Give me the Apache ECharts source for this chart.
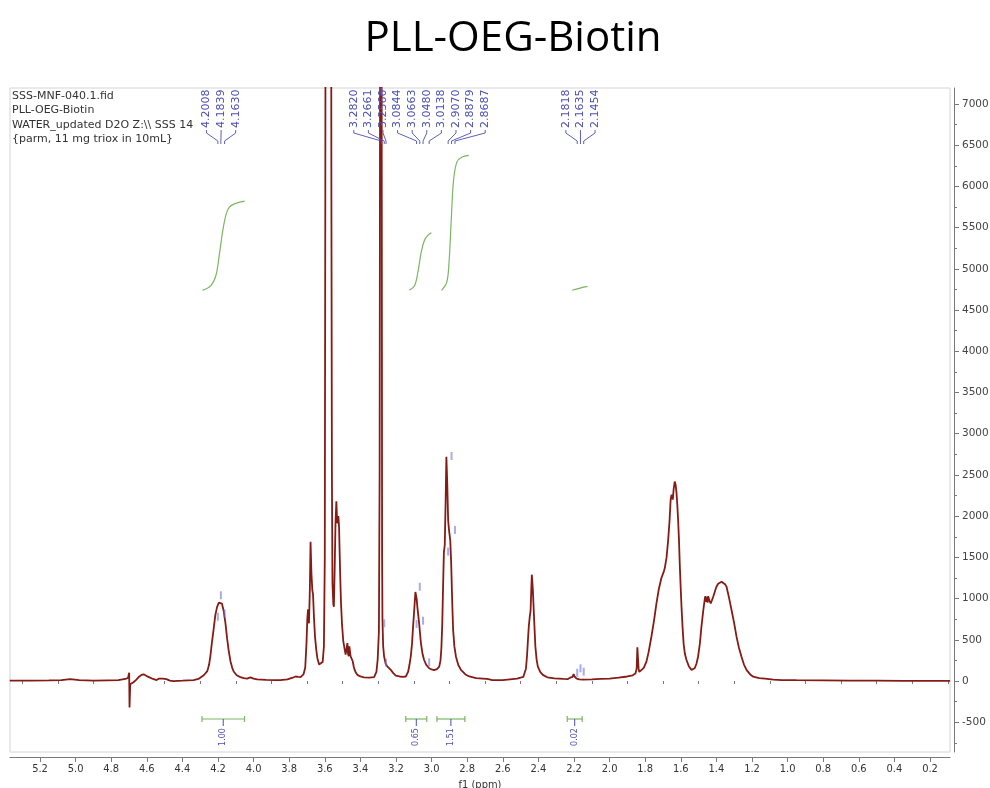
<!DOCTYPE html>
<html>
<head>
<meta charset="utf-8">
<title>PLL-OEG-Biotin</title>
<script src="https://cdn.jsdelivr.net/npm/echarts@6/dist/echarts.min.js"></script>
<style>
  html, body { margin: 0; padding: 0; background: #ffffff; }
  #chart { width: 990px; height: 788px; }
</style>
</head>
<body>
<div id="chart"></div>
<script>
// 1H spectrum, [chemical shift (ppm), intensity]
const spectrum = [
  [5.37, 5], [5.25, 5], [5.15, 8], [5.08, 12], [5.03, 22], [4.98, 12], [4.90, 5], [4.82, 8],
  [4.76, 10], [4.72, 25], [4.705, 40], [4.699, 100], [4.697, -320], [4.693, -40], [4.685, -25],
  [4.675, -15], [4.660, 15], [4.647, 45], [4.630, 75], [4.618, 82], [4.600, 60], [4.585, 45],
  [4.565, 25], [4.545, 12], [4.530, 30], [4.520, 10], [4.510, 28], [4.500, 8], [4.490, 22],
  [4.470, 5], [4.449, 0], [4.40, 5], [4.337, 12], [4.310, 25], [4.299, 35], [4.280, 70],
  [4.260, 120], [4.250, 200], [4.243, 300], [4.235, 450], [4.224, 640], [4.215, 800],
  [4.205, 900], [4.195, 950], [4.186, 962], [4.178, 940], [4.168, 850], [4.158, 700],
  [4.149, 520], [4.140, 370], [4.130, 240], [4.120, 160], [4.112, 115], [4.095, 70],
  [4.074, 48], [4.055, 35], [4.036, 30], [4.018, 45], [4.000, 30], [3.980, 20], [3.930, 15],
  [3.880, 12], [3.849, 12], [3.810, 20], [3.780, 40], [3.764, 55], [3.750, 50], [3.736, 48],
  [3.720, 80], [3.710, 160], [3.703, 450], [3.698, 760], [3.694, 870], [3.689, 700],
  [3.684, 1100], [3.680, 1690], [3.675, 1300], [3.670, 1100], [3.666, 1050], [3.661, 780],
  [3.655, 540], [3.648, 380], [3.642, 280], [3.632, 200], [3.623, 180], [3.612, 230],
  [3.605, 420], [3.600, 1500], [3.597, 6000], [3.594, 12000], [3.580, 20000], [3.566, 12000],
  [3.563, 6000], [3.560, 2500], [3.557, 1185], [3.552, 930], [3.549, 900], [3.545, 1300],
  [3.540, 1900], [3.535, 2180], [3.531, 1950], [3.528, 1914], [3.524, 2000], [3.520, 1880],
  [3.517, 1600], [3.513, 1250], [3.509, 950], [3.503, 680], [3.496, 480], [3.488, 380],
  [3.483, 320], [3.477, 330], [3.473, 460], [3.470, 340], [3.466, 300], [3.462, 420],
  [3.458, 400], [3.455, 300], [3.451, 280], [3.447, 300], [3.443, 240], [3.437, 170],
  [3.432, 135], [3.425, 100], [3.417, 75], [3.400, 55], [3.380, 45], [3.350, 42], [3.323, 48],
  [3.310, 110], [3.303, 260], [3.296, 600], [3.292, 2500], [3.288, 10000], [3.283, 12000],
  [3.280, 6000], [3.278, 1500], [3.276, 740], [3.272, 420], [3.267, 300], [3.258, 210],
  [3.248, 175], [3.229, 135], [3.215, 95], [3.201, 65], [3.180, 55], [3.160, 50], [3.145, 55],
  [3.132, 110], [3.124, 200], [3.117, 300], [3.110, 450], [3.104, 660], [3.097, 880],
  [3.091, 1080], [3.088, 1104], [3.084, 1000], [3.080, 900], [3.075, 800], [3.070, 700],
  [3.065, 580], [3.060, 460], [3.051, 330], [3.042, 255], [3.030, 195], [3.014, 155],
  [3.000, 140], [2.986, 133], [2.970, 145], [2.957, 175], [2.950, 250], [2.945, 400],
  [2.940, 700], [2.936, 1100], [2.931, 1560], [2.926, 1650], [2.921, 2200], [2.917, 2720],
  [2.912, 2400], [2.907, 1950], [2.903, 1850], [2.899, 1840], [2.895, 1700], [2.890, 1430],
  [2.884, 950], [2.879, 620], [2.872, 420], [2.863, 295], [2.850, 195], [2.835, 135],
  [2.810, 80], [2.788, 55], [2.750, 35], [2.713, 30], [2.690, 25], [2.680, 5], [2.675, 20],
  [2.660, 10], [2.650, 25], [2.630, 10], [2.600, 10], [2.560, 20], [2.520, 30], [2.500, 40],
  [2.485, 50], [2.479, 60], [2.470, 150], [2.464, 300], [2.458, 520], [2.454, 660],
  [2.448, 790], [2.444, 850], [2.440, 1100], [2.437, 1290], [2.434, 1200], [2.431, 1100],
  [2.428, 950], [2.424, 750], [2.417, 420], [2.410, 260], [2.403, 175], [2.390, 110],
  [2.375, 75], [2.350, 45], [2.310, 32], [2.260, 25], [2.234, 24], [2.222, 40], [2.215, 55],
  [2.208, 50], [2.202, 85], [2.197, 55], [2.191, 50], [2.185, 30], [2.170, 20], [2.150, 18],
  [2.100, 20], [2.050, 25], [2.000, 30], [1.950, 40], [1.900, 55], [1.870, 70], [1.855, 90],
  [1.848, 150], [1.844, 410], [1.840, 400], [1.837, 150], [1.833, 110], [1.822, 115],
  [1.808, 160], [1.793, 235], [1.780, 360], [1.765, 540], [1.750, 740], [1.737, 940],
  [1.723, 1120], [1.709, 1250], [1.695, 1330], [1.690, 1370], [1.680, 1500], [1.671, 1710],
  [1.663, 1950], [1.657, 2200], [1.652, 2260], [1.648, 2230], [1.645, 2200], [1.640, 2330],
  [1.634, 2420], [1.629, 2380], [1.624, 2280], [1.620, 2150], [1.615, 1950], [1.610, 1700],
  [1.606, 1430], [1.601, 1150], [1.596, 900], [1.590, 650], [1.584, 450], [1.577, 330],
  [1.568, 255], [1.555, 180], [1.540, 135], [1.530, 135], [1.522, 155], [1.512, 210],
  [1.503, 295], [1.493, 450], [1.484, 660], [1.474, 850], [1.465, 1000], [1.462, 1030],
  [1.458, 960], [1.453, 1020], [1.449, 950], [1.446, 1030], [1.440, 980], [1.432, 943],
  [1.425, 980], [1.418, 1023], [1.408, 1090], [1.400, 1144], [1.390, 1180], [1.380, 1200],
  [1.371, 1205], [1.360, 1195], [1.350, 1170], [1.343, 1144], [1.330, 1020], [1.315, 862],
  [1.300, 700], [1.287, 538], [1.273, 400], [1.259, 295], [1.245, 200], [1.230, 133],
  [1.210, 80], [1.193, 52], [1.160, 35], [1.127, 28], [1.080, 18], [1.033, 12], [0.95, 10],
  [0.80, 8], [0.65, 5], [0.50, 5], [0.35, 3], [0.20, 2], [0.087, 2]
];

// integral traces, [ppm, trace height]
const integralCurve1 = [[4.288, 4740], [4.241, 4794], [4.212, 4918], [4.193, 5164], [4.174, 5451],
  [4.155, 5657], [4.136, 5748], [4.108, 5789], [4.050, 5822]];
const integralCurve2 = [[3.125, 4740], [3.096, 4794], [3.077, 4959], [3.058, 5206], [3.040, 5348],
  [3.020, 5410], [3.001, 5439]];
const integralCurve3 = [[2.944, 4740], [2.915, 4835], [2.902, 5081], [2.890, 5575], [2.877, 6068],
  [2.858, 6295], [2.829, 6356], [2.791, 6376]];
const integralCurve4 = [[2.210, 4740], [2.171, 4763], [2.124, 4787]];

// integration regions and their relative areas
const integralFrom = [4.290, 3.145, 2.970, 2.238];
const integralTo = [4.051, 3.027, 2.813, 2.154];
const integralValues = ['1.00', '0.65', '1.51', '0.02'];

// picked peaks (ppm) and their heights, grouped as labelled
const peakGroups = [
  [4.2008, 4.1839, 4.1630],
  [3.2820, 3.2661, 3.2560, 3.0844, 3.0663, 3.0480, 3.0138, 2.9070, 2.8879, 2.8687],
  [2.1818, 2.1635, 2.1454]
];
const peakHeights = [
  [780, 1040, 820],
  [7150, 700, 222, 692, 1144, 732, 227, 1570, 2730, 1833],
  [100, 154, 113]
];

// axis ticks
const xTickLabels = [5.2, 5.0, 4.8, 4.6, 4.4, 4.2, 4.0, 3.8, 3.6, 3.4, 3.2, 3.0, 2.8, 2.6, 2.4,
  2.2, 2.0, 1.8, 1.6, 1.4, 1.2, 1.0, 0.8, 0.6, 0.4, 0.2];
const xMinorTicks = [5.3, 5.1, 4.9, 4.7, 4.5, 4.3, 4.1, 3.9, 3.7, 3.5, 3.3, 3.1, 2.9, 2.7, 2.5,
  2.3, 2.1, 1.9, 1.7, 1.5, 1.3, 1.1, 0.9, 0.7, 0.5, 0.3, 0.1];
const yTickLabels = [-500, 0, 500, 1000, 1500, 2000, 2500, 3000, 3500, 4000, 4500, 5000, 5500,
  6000, 6500, 7000];
const yMinorTicks = [-750, -250, 250, 750, 1250, 1750, 2250, 2750, 3250, 3750, 4250, 4750, 5250,
  5750, 6250, 6750];

const headerLines = [
  'SSS-MNF-040.1.fid',
  'PLL-OEG-Biotin',
  'WATER_updated D2O Z:\\\\ SSS 14',
  '{parm, 11 mg triox in 10mL}'
];

const X_MIN = 0.0876, X_MAX = 5.3685;
const Y_MIN = -861, Y_MAX = 7194;

const SPEC_COLOR = '#841c15';
const INT_GREEN = '#7cb564';
const LABEL_BLUE = '#4b4fb0';
const AXIS_GRAY = '#7a7a7a';
const FONT = '"DejaVu Sans", Verdana, sans-serif';
const FONT_COND = '"DejaVu Sans Condensed", "DejaVu Sans", sans-serif';

function renderPeakLabels(params, api) {
  const group = peakGroups[params.dataIndex];
  const top = api.coord([X_MIN, Y_MAX])[1];
  const xs = group.map(p => api.coord([p, 0])[0]);
  const cx = xs.reduce((a, b) => a + b, 0) / xs.length;
  const step = 14.6;
  const base = top + 40;
  const children = [];
  group.forEach((p, i) => {
    const lx = cx + (i - (group.length - 1) / 2) * step;
    children.push({
      type: 'text', x: lx, y: base, rotation: Math.PI / 2,
      style: { text: p.toFixed(4), fill: LABEL_BLUE, font: '11px ' + FONT, align: 'left', verticalAlign: 'middle' }
    });
    children.push({
      type: 'polyline',
      shape: { points: [[lx, base + 2], [lx, base + 5], [xs[i], base + 13], [xs[i], base + 16]] },
      style: { stroke: LABEL_BLUE, fill: null, lineWidth: 0.9 }
    });
  });
  return { type: 'group', children: children };
}

function renderIntegrals(params, api) {
  const i = params.dataIndex;
  const x1 = api.coord([integralFrom[i], 0])[0];
  const x2 = api.coord([integralTo[i], 0])[0];
  const y = api.coord([X_MIN, Y_MIN])[1] - 33;
  const cx = (x1 + x2) / 2;
  const g = { stroke: INT_GREEN, lineWidth: 1.2 };
  return {
    type: 'group',
    children: [
      { type: 'line', shape: { x1: x1, y1: y, x2: x2, y2: y }, style: g },
      { type: 'line', shape: { x1: x1, y1: y - 3, x2: x1, y2: y + 3 }, style: g },
      { type: 'line', shape: { x1: x2, y1: y - 3, x2: x2, y2: y + 3 }, style: g },
      { type: 'line', shape: { x1: cx, y1: y, x2: cx, y2: y + 7 }, style: { stroke: LABEL_BLUE, lineWidth: 1 } },
      {
        type: 'text', x: cx, y: y + 18, rotation: Math.PI / 2,
        style: { text: integralValues[i], fill: LABEL_BLUE, font: '8px ' + FONT, align: 'center', verticalAlign: 'middle' }
      }
    ]
  };
}

const chart = echarts.init(document.getElementById('chart'), null, { renderer: 'canvas' });

const markerData = [];
peakGroups.forEach((g, gi) => g.forEach((p, i) => markerData.push([p, peakHeights[gi][i]])));

const integralSeries = [integralCurve1, integralCurve2, integralCurve3, integralCurve4].map(c => ({
  type: 'line', data: c, xAxisIndex: 0, yAxisIndex: 0, smooth: 0.35, showSymbol: false,
  lineStyle: { color: INT_GREEN, width: 1.2 }, silent: true, z: 2
}));

chart.setOption({
  animation: false,
  backgroundColor: '#ffffff',
  title: {
    text: 'PLL-OEG-Biotin', left: 508, top: 13, textAlign: 'center',
    textStyle: { fontFamily: '"Open Sans", sans-serif', fontSize: 42, fontWeight: 'normal', color: '#000000' }
  },
  graphic: [{
    type: 'text', left: 12, top: 89,
    style: { text: headerLines.join('\n'), font: '11px ' + FONT, fill: '#333333', lineHeight: 14.4 }
  }],
  grid: {
    left: 10, right: 40, top: 88, bottom: 36, outerBoundsMode: 'none', containLabel: false,
    show: true, borderColor: '#d4d4d4', borderWidth: 1, backgroundColor: 'transparent'
  },
  xAxis: [{
    type: 'value', inverse: true, min: X_MIN, max: X_MAX, position: 'bottom', offset: 5,
    axisLine: { show: true, onZero: false, lineStyle: { color: AXIS_GRAY, width: 1 } },
    axisTick: { show: true, customValues: xTickLabels, length: 5, lineStyle: { color: AXIS_GRAY } },
    axisLabel: {
      show: true, customValues: xTickLabels, formatter: v => v.toFixed(1), margin: 7,
      color: '#333333', fontSize: 11, fontFamily: FONT_COND
    },
    splitLine: { show: false },
    name: 'f1 (ppm)', nameLocation: 'middle', nameGap: 22,
    nameTextStyle: { color: '#333333', fontSize: 11, fontFamily: FONT_COND }
  }, {
    type: 'value', inverse: true, min: X_MIN, max: X_MAX, position: 'bottom', offset: 5,
    axisLine: { show: false },
    axisTick: { show: true, customValues: xMinorTicks, length: 3, lineStyle: { color: AXIS_GRAY } },
    axisLabel: { show: false }, splitLine: { show: false }
  }],
  yAxis: [{
    type: 'value', min: Y_MIN, max: Y_MAX, position: 'right', offset: 4,
    axisLine: { show: true, onZero: false, lineStyle: { color: AXIS_GRAY, width: 1 } },
    axisTick: { show: true, customValues: yTickLabels, length: 5, lineStyle: { color: AXIS_GRAY } },
    axisLabel: {
      show: true, customValues: yTickLabels, formatter: v => String(Math.round(v)), margin: 8,
      color: '#444444', fontSize: 10.5, fontFamily: FONT
    },
    splitLine: { show: false }
  }, {
    type: 'value', min: Y_MIN, max: Y_MAX, position: 'right', offset: 4,
    axisLine: { show: false },
    axisTick: { show: true, customValues: yMinorTicks, length: 3, lineStyle: { color: AXIS_GRAY } },
    axisLabel: { show: false }, splitLine: { show: false }
  }],
  series: [
    {
      type: 'line', name: 'spectrum', data: spectrum, xAxisIndex: 0, yAxisIndex: 0,
      showSymbol: false, clip: true, silent: true, z: 3,
      lineStyle: { color: SPEC_COLOR, width: 1.8 }
    },
    ...integralSeries,
    {
      type: 'scatter', data: markerData, xAxisIndex: 0, yAxisIndex: 0, symbol: 'rect',
      symbolSize: [2, 8], itemStyle: { color: 'rgba(110, 115, 225, 0.75)' }, silent: true, z: 4
    },
    {
      type: 'custom', data: peakGroups.map((g, i) => [g[0], i]), xAxisIndex: 0, yAxisIndex: 0,
      renderItem: renderPeakLabels, silent: true, z: 5
    },
    {
      type: 'custom', data: integralFrom.map((f, i) => [f, i]), xAxisIndex: 0, yAxisIndex: 0,
      renderItem: renderIntegrals, silent: true, z: 5
    }
  ]
});
</script>
</body>
</html>
